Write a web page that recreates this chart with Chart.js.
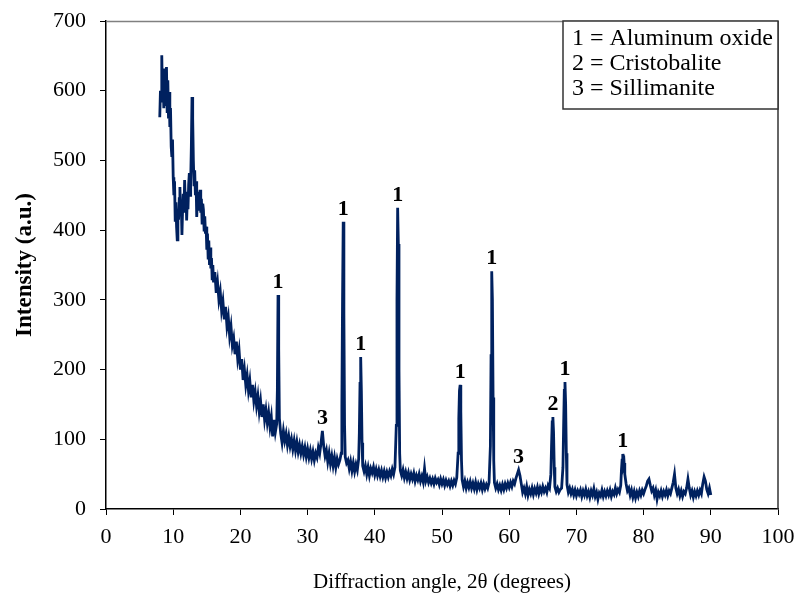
<!DOCTYPE html>
<html>
<head>
<meta charset="utf-8">
<script src="https://cdn.jsdelivr.net/npm/chart.js@4.4.1/dist/chart.umd.min.js"></script>
<style>
  html, body { margin: 0; padding: 0; background: #fff; }
  canvas { display: block; }
</style>
</head>
<body>
<canvas id="grafico" width="798" height="595"></canvas>
<script>
// 2theta (degrees)
const angles = [
  8.0, 8.1, 8.2, 8.3, 8.4, 8.5, 8.6, 8.7, 8.8, 8.9,
  9.0, 9.1, 9.2, 9.3, 9.4, 9.5, 9.6, 9.7, 9.8, 9.9,
  10.0, 10.1, 10.2, 10.3, 10.4, 10.5, 10.6, 10.7, 10.8, 10.9,
  11.0, 11.1, 11.2, 11.3, 11.4, 11.5, 11.6, 11.7, 11.8, 11.9,
  12.0, 12.1, 12.2, 12.3, 12.4, 12.5, 12.6, 12.7, 12.8, 12.9,
  13.0, 13.1, 13.2, 13.3, 13.4, 13.5, 13.6, 13.7, 13.8, 13.9,
  14.0, 14.1, 14.2, 14.3, 14.4, 14.5, 14.6, 14.7, 14.8, 14.9,
  15.0, 15.1, 15.2, 15.3, 15.4, 15.5, 15.6, 15.7, 15.8, 15.9,
  16.0, 16.2, 16.4, 16.6, 16.8, 17.0, 17.2, 17.4, 17.6, 17.8,
  18.0, 18.2, 18.4, 18.6, 18.8, 19.0, 19.2, 19.4, 19.6, 19.8,
  20.0, 20.2, 20.4, 20.6, 20.8, 21.0, 21.2, 21.4, 21.6, 21.8,
  22.0, 22.2, 22.4, 22.6, 22.8, 23.0, 23.2, 23.4, 23.6, 23.8,
  24.0, 24.2, 24.4, 24.6, 24.8, 25.0, 25.2, 25.4, 25.5, 25.6,
  25.7, 25.8, 26.0, 26.2, 26.4, 26.6, 26.8, 27.0, 27.2, 27.4,
  27.6, 27.8, 28.0, 28.2, 28.4, 28.6, 28.8, 29.0, 29.2, 29.4,
  29.6, 29.8, 30.0, 30.2, 30.4, 30.6, 30.8, 31.0, 31.2, 31.4,
  31.6, 31.8, 32.0, 32.2, 32.4, 32.6, 32.8, 33.0, 33.2, 33.4,
  33.6, 33.8, 34.0, 34.2, 34.4, 34.6, 34.8, 35.0, 35.1, 35.2,
  35.3, 35.4, 35.5, 35.6, 35.8, 36.0, 36.2, 36.4, 36.6, 36.8,
  37.0, 37.2, 37.4, 37.6, 37.7, 37.8, 37.9, 38.0, 38.1, 38.2,
  38.4, 38.6, 38.8, 39.0, 39.2, 39.4, 39.6, 39.8, 40.0, 40.2,
  40.4, 40.6, 40.8, 41.0, 41.2, 41.4, 41.6, 41.8, 42.0, 42.2,
  42.4, 42.6, 42.8, 43.0, 43.2, 43.3, 43.4, 43.5, 43.6, 43.7,
  43.8, 44.0, 44.2, 44.4, 44.6, 44.8, 45.0, 45.2, 45.4, 45.6,
  45.8, 46.0, 46.2, 46.4, 46.6, 46.8, 47.0, 47.2, 47.4, 47.6,
  47.8, 48.0, 48.2, 48.4, 48.6, 48.8, 49.0, 49.2, 49.4, 49.6,
  49.8, 50.0, 50.2, 50.4, 50.6, 50.8, 51.0, 51.2, 51.4, 51.6,
  51.8, 52.0, 52.2, 52.4, 52.5, 52.6, 52.7, 52.8, 52.9, 53.0,
  53.2, 53.4, 53.6, 53.8, 54.0, 54.2, 54.4, 54.6, 54.8, 55.0,
  55.2, 55.4, 55.6, 55.8, 56.0, 56.2, 56.4, 56.6, 56.8, 57.0,
  57.2, 57.3, 57.4, 57.5, 57.6, 57.7, 57.8, 58.0, 58.2, 58.4,
  58.6, 58.8, 59.0, 59.2, 59.4, 59.6, 59.8, 60.0, 60.2, 60.4,
  60.6, 60.8, 61.0, 61.2, 61.4, 61.6, 61.8, 62.0, 62.2, 62.4,
  62.6, 62.8, 63.0, 63.2, 63.4, 63.6, 63.8, 64.0, 64.2, 64.4,
  64.6, 64.8, 65.0, 65.2, 65.4, 65.6, 65.8, 66.0, 66.2, 66.3,
  66.4, 66.5, 66.6, 66.7, 66.8, 67.0, 67.2, 67.4, 67.6, 67.8,
  68.0, 68.1, 68.2, 68.3, 68.4, 68.5, 68.6, 68.8, 69.0, 69.2,
  69.4, 69.6, 69.8, 70.0, 70.2, 70.4, 70.6, 70.8, 71.0, 71.2,
  71.4, 71.6, 71.8, 72.0, 72.2, 72.4, 72.6, 72.8, 73.0, 73.2,
  73.4, 73.6, 73.8, 74.0, 74.2, 74.4, 74.6, 74.8, 75.0, 75.2,
  75.4, 75.6, 75.8, 76.0, 76.2, 76.4, 76.6, 76.7, 76.8, 76.9,
  77.0, 77.1, 77.2, 77.4, 77.6, 77.8, 78.0, 78.2, 78.4, 78.6,
  78.8, 79.0, 79.2, 79.4, 79.6, 79.8, 80.0, 80.2, 80.4, 80.6,
  80.8, 81.0, 81.2, 81.4, 81.6, 81.8, 82.0, 82.2, 82.4, 82.6,
  82.8, 83.0, 83.2, 83.4, 83.6, 83.8, 84.0, 84.2, 84.4, 84.6,
  84.8, 85.0, 85.2, 85.4, 85.6, 85.8, 86.0, 86.2, 86.4, 86.6,
  86.8, 87.0, 87.2, 87.4, 87.6, 87.8, 88.0, 88.2, 88.4, 88.6,
  88.8, 89.0, 89.2, 89.4, 89.6, 89.8, 90.0
];

// intensidade (a.u.)
const intensity = [
  562, 600, 585, 651, 590, 620, 575, 632, 580, 605,
  634, 570, 615, 560, 598, 548, 575, 520, 505, 530,
  476, 450, 470, 414, 440, 405, 386, 430, 415, 445,
  462, 420, 438, 393, 430, 452, 425, 472, 440, 455,
  414, 445, 430, 465, 482, 450, 470, 520, 591, 560,
  500, 465, 486, 450, 470, 419, 445, 430, 455, 440,
  458, 425, 445, 410, 438, 429, 400, 420, 395, 405,
  372, 395, 360, 385, 350, 375, 345, 360, 330, 350,
  325, 340, 310, 325, 300, 312, 285, 298, 272, 290,
  262, 275, 248, 262, 235, 245, 222, 240, 215, 228,
  200, 215, 185, 200, 178, 192, 170, 184, 160, 178,
  155, 168, 148, 162, 140, 155, 132, 150, 128, 142,
  124, 138, 118, 132, 104, 128, 110, 122, 170, 307,
  230, 130, 108, 95, 112, 98, 108, 92, 104, 90,
  100, 86, 98, 84, 96, 82, 92, 80, 90, 78,
  88, 75, 86, 74, 84, 72, 82, 70, 80, 74,
  88, 80, 95, 112, 90, 76, 84, 68, 80, 65,
  76, 62, 74, 60, 72, 64, 70, 80, 150, 300,
  412, 280, 120, 75, 66, 70, 58, 68, 55, 66,
  54, 64, 56, 72, 110, 180, 218, 170, 95, 62,
  54, 62, 50, 60, 48, 58, 52, 60, 49, 57,
  48, 56, 47, 55, 46, 54, 45, 53, 46, 54,
  48, 57, 50, 60, 120, 300, 432, 380, 200, 80,
  55, 48, 56, 45, 53, 44, 52, 42, 50, 43,
  51, 40, 48, 42, 50, 40, 47, 39, 58, 40,
  46, 38, 44, 37, 43, 36, 44, 38, 42, 35,
  43, 36, 42, 34, 41, 35, 40, 33, 40, 34,
  41, 36, 45, 80, 130, 170, 178, 140, 70, 42,
  32, 40, 30, 38, 31, 39, 30, 37, 29, 38,
  28, 36, 30, 37, 28, 36, 29, 35, 30, 38,
  90, 220, 341, 300, 160, 70, 38, 30, 36, 28,
  34, 27, 35, 28, 36, 30, 37, 31, 38, 32,
  40, 36, 44, 50, 56, 48, 36, 24, 30, 22,
  32, 20, 28, 22, 30, 21, 29, 23, 31, 22,
  30, 24, 32, 25, 30, 24, 34, 30, 50, 90,
  125, 132, 110, 60, 32, 25, 30, 24, 28, 30,
  60, 120, 170, 182, 150, 80, 35, 24, 30, 22,
  28, 20, 27, 19, 26, 21, 27, 18, 26, 20,
  28, 19, 25, 17, 26, 20, 29, 18, 24, 14,
  23, 19, 27, 18, 25, 19, 26, 20, 27, 18,
  25, 21, 30, 22, 28, 24, 34, 55, 70, 79,
  62, 66, 50, 36, 26, 30, 20, 27, 17, 25,
  16, 24, 18, 26, 20, 27, 22, 28, 33, 40,
  43, 34, 26, 30, 20, 27, 14, 24, 19, 26,
  18, 25, 20, 27, 19, 26, 22, 30, 38, 50,
  30, 22, 28, 19, 26, 18, 25, 22, 30, 43,
  30, 20, 26, 17, 25, 19, 26, 20, 27, 22,
  36, 46, 40, 28, 22, 30, 20
];

// picos identificados
const peakAngles = [25.6, 32.2, 35.3, 37.9, 43.4, 52.7, 57.4, 61.4, 66.5, 68.3, 76.9];
const peakHeights = [307, 112, 412, 218, 432, 178, 341, 56, 132, 182, 79];
const peakPhases = ['1', '3', '1', '1', '1', '1', '1', '3', '2', '1', '1'];

const legendLines = ['1 = Aluminum oxide', '2 = Cristobalite', '3 = Sillimanite'];

const xTicks = [0, 10, 20, 30, 40, 50, 60, 70, 80, 90, 100];
const yTicks = [0, 100, 200, 300, 400, 500, 600, 700];

const SERIF = "'Liberation Serif', 'Times New Roman', serif";
const LINE_COLOR = '#00215f';

const points = angles.map((a, i) => ({ x: a, y: intensity[i] }));

// rótulos dos picos + caixa de legenda + borda do gráfico
const extras = {
  id: 'extras',
  afterDatasetsDraw(chart) {
    const { ctx, chartArea, scales } = chart;
    ctx.save();

    // borda superior e direita
    ctx.lineWidth = 1.5;
    ctx.strokeStyle = '#808080';
    ctx.beginPath();
    ctx.moveTo(chartArea.left, chartArea.top + 0.5);
    ctx.lineTo(chartArea.right, chartArea.top + 0.5);
    ctx.stroke();
    ctx.strokeStyle = '#333';
    ctx.beginPath();
    ctx.moveTo(chartArea.right, chartArea.top);
    ctx.lineTo(chartArea.right, chartArea.bottom);
    ctx.stroke();

    // números das fases
    ctx.fillStyle = '#000';
    ctx.font = 'bold 22px ' + SERIF;
    ctx.textAlign = 'center';
    ctx.textBaseline = 'alphabetic';
    peakAngles.forEach((a, i) => {
      const px = scales.x.getPixelForValue(a);
      const py = scales.y.getPixelForValue(peakHeights[i]);
      ctx.fillText(peakPhases[i], px, py - 7);
    });

    // caixa de legenda
    const bx = 563, by = chartArea.top, bw = chartArea.right - 563, bh = 88;
    ctx.fillStyle = '#fff';
    ctx.fillRect(bx, by, bw, bh);
    ctx.strokeStyle = '#333';
    ctx.lineWidth = 1.5;
    ctx.strokeRect(bx, by, bw, bh);
    ctx.fillStyle = '#000';
    ctx.font = '24px ' + SERIF;
    ctx.textAlign = 'left';
    legendLines.forEach((t, i) => {
      ctx.fillText(t, bx + 9, by + 24 + i * 25);
    });

    ctx.restore();
  }
};

new Chart(document.getElementById('grafico'), {
  type: 'line',
  data: {
    datasets: [{
      data: points,
      borderColor: LINE_COLOR,
      borderWidth: 2.8,
      pointRadius: 0,
      tension: 0,
      fill: false
    }]
  },
  options: {
    responsive: false,
    animation: false,
    parsing: false,
    layout: { padding: { top: 21, right: 20, left: 0, bottom: 0 } },
    plugins: {
      legend: { display: false },
      tooltip: { enabled: false }
    },
    scales: {
      x: {
        type: 'linear',
        min: 0,
        max: 100,
        afterBuildTicks: (s) => { s.ticks = xTicks.map(v => ({ value: v })); },
        afterFit: (s) => {
          s.height = 86;
          s.paddingLeft = 0;
          s.paddingRight = 0;
        },
        ticks: {
          color: '#000',
          font: { family: SERIF, size: 22 },
          padding: 9,
          maxRotation: 0
        },
        grid: {
          drawOnChartArea: false,
          drawTicks: true,
          tickLength: 6,
          color: '#000',
          lineWidth: 1
        },
        border: { color: '#000', width: 1.5 },
        title: {
          display: true,
          text: 'Diffraction angle, 2θ (degrees)',
          color: '#000',
          font: { family: SERIF, size: 21 },
          padding: { top: 0, bottom: 0 }
        }
      },
      y: {
        min: 0,
        max: 700,
        afterBuildTicks: (s) => { s.ticks = yTicks.map(v => ({ value: v })); },
        afterFit: (s) => {
          s.width = 106;
          s.paddingTop = 0;
          s.paddingBottom = 0;
        },
        ticks: {
          color: '#000',
          font: { family: SERIF, size: 22 },
          padding: 14
        },
        grid: {
          drawOnChartArea: false,
          drawTicks: true,
          tickLength: 6,
          color: '#000',
          lineWidth: 1
        },
        border: { color: '#000', width: 1.5 },
        title: {
          display: true,
          text: 'Intensity (a.u.)',
          color: '#000',
          font: { family: SERIF, size: 23, weight: 'bold' },
          padding: { top: 11, bottom: 0 }
        }
      }
    }
  },
  plugins: [extras]
});
</script>
</body>
</html>
